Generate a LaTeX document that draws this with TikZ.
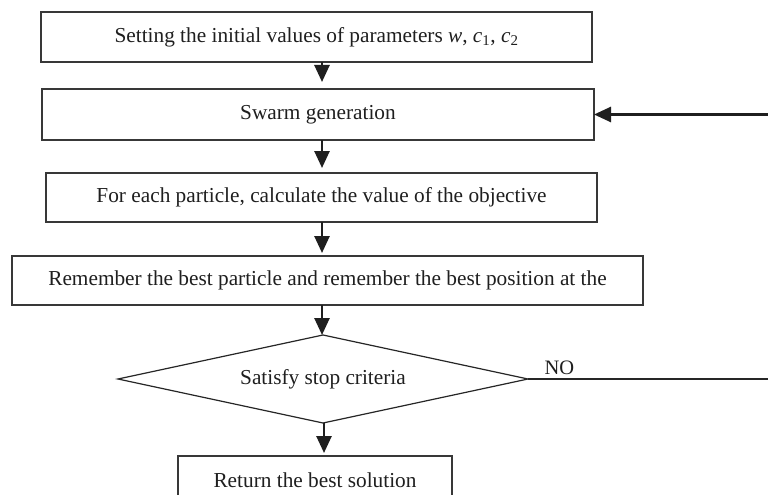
\documentclass[tikz,border=0pt]{standalone}
\usepackage{fontspec}
\setmainfont{Liberation Serif}
\usetikzlibrary{arrows.meta,shapes.geometric,calc}
\begin{document}
\begin{tikzpicture}[x=1pt,y=-1pt,
  every node/.style={font=\fontsize{21.3}{25}\selectfont, text=black!88},
  boxnode/.style={draw=black!78, line width=1.3pt, inner sep=0pt, outer sep=0pt},
  decision/.style={draw=black!85, line width=1.2pt, shape=diamond, aspect=4.66, inner sep=0pt, outer sep=0pt},
  arr/.style={draw=black!88, line width=2.6pt, -{Triangle[width=15pt,length=17pt]}},
  thinline/.style={draw=black!85, line width=1.2pt}]
\useasboundingbox (0,0) rectangle (768,495);
\clip (0,0) rectangle (768,495);
\fill[white] (0,0) rectangle (768,495);
\coordinate (ax) at (322,0);
\node[boxnode, minimum width=551pt, minimum height=50pt] (b1) at (316.5,37) {Setting the initial values of parameters \textit{w}, \textit{c}\textsubscript{1}, \textit{c}\textsubscript{2}};
\node[boxnode, minimum width=552pt, minimum height=51pt] (b2) at (318,114.5) {Swarm generation};
\node[boxnode, minimum width=551pt, minimum height=49pt] (b3) at (321.5,197.5) {For each particle, calculate the value of the objective};
\node[boxnode, minimum width=631pt, minimum height=49pt] (b4) at (327.5,280.5) {Remember the best particle and remember the best position at the};
\node[decision, minimum width=410pt, minimum height=88pt] (d) at (323,379) {Satisfy stop criteria};
\node[boxnode, minimum width=274pt, minimum height=50pt, anchor=north] (b5) at (315,456) {};
\node (t5) at (315,480) {Return the best solution};
\coordinate (fb) at (769,114.5);
\coordinate (noend) at (769,379);
\draw[arr] (b1.south -| ax) -- ($(b2.north -| ax)+(0,-7)$);
\draw[arr] (b2.south -| ax) -- ($(b3.north -| ax)+(0,-5)$);
\draw[arr] (b3.south -| ax) -- ($(b4.north -| ax)+(0,-3)$);
\draw[arr] (b4.south -| ax) -- (d.north -| ax);
\draw[arr] ($(d.south)+(1,0)$) -- ($(b5.north -| d.south)+(1,-3)$);
\draw[arr] (fb) -- (b2.east);
\draw[thinline] (d.east) -- (noend);
\node[anchor=base west, font=\fontsize{20.5}{22}\selectfont] (no) at (541,374) {NO};
\end{tikzpicture}
\end{document}
